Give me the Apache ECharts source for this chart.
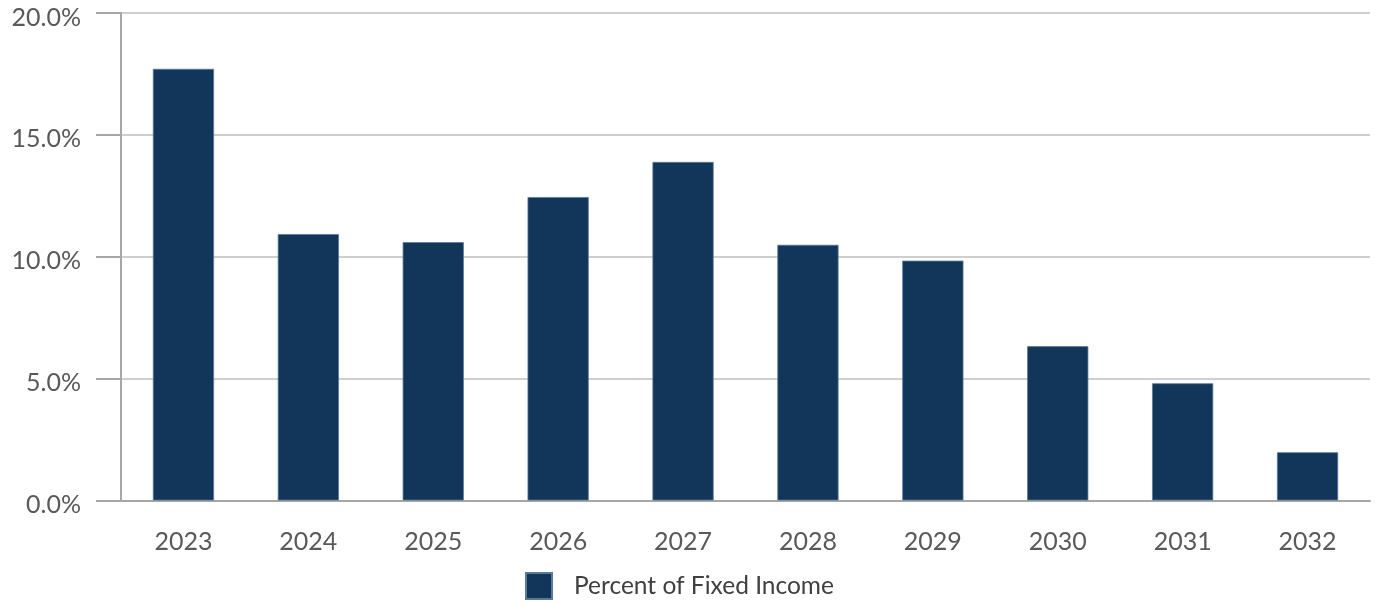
<!DOCTYPE html>
<html><head><meta charset="utf-8">
<script src="https://cdn.jsdelivr.net/npm/echarts@6/dist/echarts.min.js"></script>
<style>html,body{margin:0;padding:0;background:#fff}#c{width:1379px;height:604px}</style>
</head><body><div id="c"></div>
<script>
const categories = ['2023','2024','2025','2026','2027','2028','2029','2030','2031','2032'];
const seriesName = 'Percent of Fixed Income';
const values = [17.71, 10.93, 10.60, 12.45, 13.89, 10.49, 9.84, 6.33, 4.81, 1.98];
const yTicks = {min: 0, max: 20, interval: 5};

const chart = echarts.init(document.getElementById('c'));
chart.setOption({
  animation: false,
  backgroundColor: '#ffffff',
  textStyle: {fontFamily: 'Lato'},
  grid: {left: 121, right: 9, top: 13, bottom: 103.5, containLabel: false},
  legend: {
    data: [seriesName], left: 520, top: 567,
    itemWidth: 26, itemHeight: 26, icon: 'rect',
    textStyle: {color: '#404040', fontSize: 24.5, fontFamily: 'Lato', padding: [2,0,0,17]}
  },
  xAxis: {
    type: 'category', data: categories,
    axisLine: {lineStyle: {color: '#a6a6a6', width: 2}},
    axisTick: {show: false},
    axisLabel: {color: '#595959', fontSize: 25, margin: 29}
  },
  yAxis: {
    type: 'value', min: yTicks.min, max: yTicks.max, interval: yTicks.interval,
    axisLine: {show: true, lineStyle: {color: '#a6a6a6', width: 2}},
    axisTick: {show: true, length: 25, lineStyle: {color: '#a6a6a6', width: 2}},
    splitLine: {lineStyle: {color: '#bfbfbf', width: 1.5}},
    axisLabel: {color: '#595959', fontSize: 25, margin: 40,
      formatter: v => '{a|' + v.toFixed(1) + '%}',
      rich: {a: {fontSize: 25, color: '#595959', fontFamily: 'Lato', padding: [9,0,0,0]}}}
  },
  series: [{
    name: seriesName, type: 'bar', data: values, barWidth: '49%',
    itemStyle: {color: '#12355a', borderColor: '#5b7a99', borderWidth: 0.8}
  }]
});
</script></body></html>
